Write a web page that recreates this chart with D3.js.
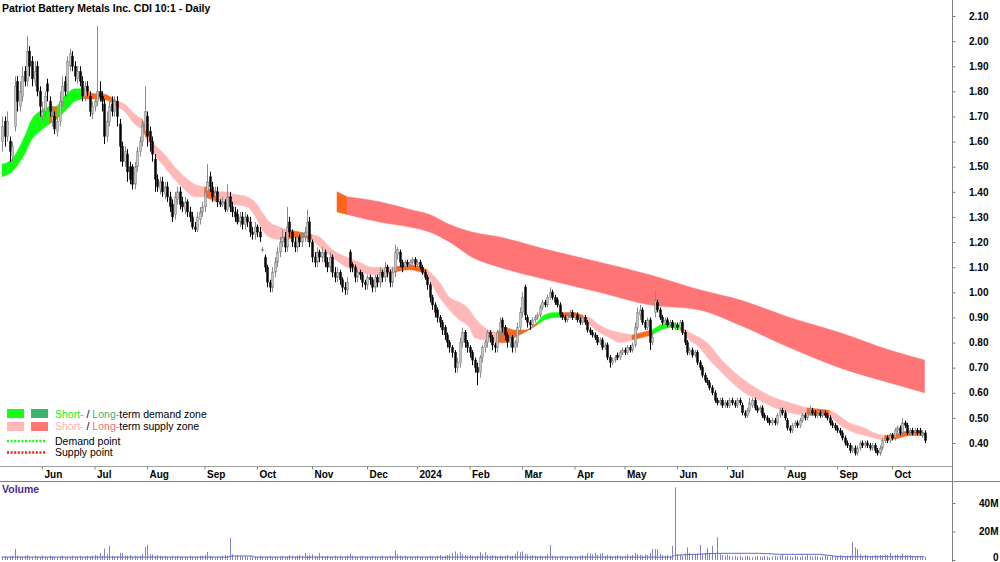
<!DOCTYPE html>
<html>
<head>
<meta charset="utf-8">
<script src="https://cdn.jsdelivr.net/npm/d3@7"></script>
<style>
  body { margin: 0; background: #fff; }
  svg { display: block; font-family: 'Liberation Sans', Arial, sans-serif; }
</style>
</head>
<body>
<div id="chart"></div>
<script>
// Daily candles, one per trading day (index 0 = mid May 2023), prices in cents
const opens = [
  160,168,162,160,154,166,184,174,178,188, 184,196,192,184,190,180,170,172,183,176,
  168,170,164,168,176,184,180,190,194,190, 185,188,184,178,182,178,171,174,176,180,
  178,175,162,168,175,172,176,167,158,152, 155,150,150,143,150,156,160,164,170,164,
  160,153,145,141,144,139,142,138,135,131, 137,140,136,133,136,132,130,126,125,129,
  132,134,140,146,142,138,140,136,135,136, 133,138,134,132,131,128,130,127,130,128,
  124,123,126,124,117,114,110,104,102,108, 112,116,120,122,118,128,124,120,118,122,
  120,122,122,128,120,114,112,116,114,116, 112,110,114,108,106,108,105,102,101,116,
  111,110,106,108,107,104,103,106,105,102, 106,104,108,106,110,108,104,108,115,116,
  112,110,112,111,112,113,111,112,110,108, 106,103,98,95,93,90,88,86,83,80,
  78,76,70,72,80,84,80,78,76,73, 70,68,74,78,80,84,82,79,78,84,
  89,86,83,80,82,78,80,86,92,102, 90,88,87,89,90,91,94,96,95,98,
  100,98,97,95,91,90,89,91,92,90, 91,89,88,90,88,85,84,83,82,80,
  81,78,79,74,72,73,75,74,76,77, 76,78,77,79,86,91,93,88,86,89,
  80,92,96,93,90,88,89,87,88,86, 87,86,88,84,80,76,77,75,76,72,
  70,67,65,64,62,60,57,56,57,55, 56,55,57,56,55,57,55,52,51,53,
  55,57,54,53,54,51,50,49,48,49, 48,51,53,52,49,46,45,47,48,47,
  49,51,50,52,53,52,51,52,51,52, 51,50,48,47,46,45,44,42,40,39,
  37,38,36,38,40,39,40,39,38,39, 37,36,38,41,42,41,43,42,45,46,
  44,48,47,44,45,44,45,45,43,44
]
const highs = [
  170,170,172,162,160,186,186,184,190,190, 202,198,194,192,192,182,176,180,185,178,
  174,172,170,180,186,186,194,197,196,192, 190,190,186,184,184,180,176,178,206,184,
  180,177,172,176,178,178,178,169,160,158, 157,152,151,152,158,162,168,182,172,166,
  162,155,147,146,146,144,144,140,137,140, 142,142,138,138,137,134,132,128,132,134,
  136,142,151,148,144,142,142,137,138,137, 143,140,136,134,133,132,132,132,131,130,
  126,128,127,126,118,115,111,105,110,114, 118,122,125,124,134,130,125,122,124,123,
  124,126,133,130,121,116,118,117,118,117, 114,116,115,110,110,109,106,104,106,117,
  112,111,109,109,108,105,107,107,106,107, 107,110,109,112,111,109,110,119,118,117,
  113,113,113,113,114,114,113,113,111,109, 107,104,99,96,94,91,89,87,84,81,
  79,77,74,82,86,85,81,79,77,74, 72,75,79,81,85,85,83,80,85,90,
  90,87,84,83,83,81,88,94,100,103, 91,89,90,91,92,95,97,97,99,102,
  101,99,98,96,92,91,92,93,93,92, 92,90,91,91,89,86,85,84,83,82,
  82,80,80,75,74,75,76,77,78,78, 79,79,80,88,94,95,94,89,90,90,
  84,101,97,94,91,90,90,89,89,88, 88,89,89,85,81,78,78,77,77,73,
  71,68,66,65,63,61,58,58,58,57, 57,58,58,57,58,58,56,53,54,58,
  58,58,55,55,55,52,51,50,50,50, 52,54,54,53,50,47,48,49,49,50,
  52,52,53,55,54,53,53,53,53,53, 52,51,49,48,47,46,45,43,41,40,
  39,39,39,41,41,41,41,40,40,40, 38,39,42,43,43,44,44,46,47,47,
  50,49,48,46,46,46,46,46,45,45
]
const lows = [
  156,158,160,152,152,164,172,172,176,182, 182,186,182,182,178,170,168,170,176,170,
  166,163,162,166,174,178,178,188,188,184, 183,182,176,176,178,170,169,172,174,176,
  172,159,160,166,170,170,166,152,150,150, 144,143,141,141,148,154,158,162,158,156,
  152,140,140,139,138,137,136,132,128,129, 135,133,132,131,130,128,125,124,124,127,
  130,132,138,140,136,136,134,134,134,132, 132,132,130,128,127,126,125,125,126,122,
  121,121,122,120,116,108,102,100,100,106, 110,114,118,116,116,122,118,116,116,118,
  118,120,120,118,112,110,110,112,112,110, 108,108,106,104,104,103,100,99,99,108,
  108,104,104,105,102,101,101,103,100,100, 102,102,104,104,106,102,102,106,113,110,
  108,109,110,110,111,110,110,109,107,105, 101,96,93,90,88,86,83,81,78,76,
  74,68,68,70,78,78,76,74,71,68, 63,66,72,76,78,80,77,76,76,82,
  84,81,78,78,76,76,78,84,90,89, 86,85,86,88,89,90,93,94,94,97,
  97,95,94,90,89,88,88,90,89,89, 88,87,87,87,84,83,82,81,79,79,
  77,77,73,70,71,72,73,73,75,75, 75,76,76,78,85,89,87,85,85,77,
  79,90,92,89,87,87,86,86,85,85, 85,85,83,79,75,75,74,74,71,69,
  66,64,63,61,59,56,55,55,54,54, 54,54,55,54,54,55,51,50,50,52,
  54,53,52,52,50,49,48,47,47,47, 47,50,51,49,45,44,44,46,46,46,
  48,49,49,51,51,50,50,50,50,50, 49,47,46,45,44,43,41,39,38,36,
  36,35,35,37,38,38,38,37,37,36, 35,35,37,40,40,40,41,41,44,43,
  43,46,43,43,43,43,43,43,42,40
]
const closes = [
  166,162,168,156,158,182,176,180,186,184, 196,190,185,188,180,174,172,178,180,172,
  170,165,168,176,182,180,192,195,190,186, 188,184,178,182,180,172,174,176,180,178,
  176,162,168,174,172,176,170,158,152,156, 148,145,143,150,156,160,166,172,162,160,
  155,145,142,144,140,142,138,134,130,138, 140,135,134,136,132,130,126,125,130,132,
  134,140,144,142,138,140,136,135,136,133, 138,134,132,130,128,130,127,130,128,124,
  123,126,124,122,117,110,104,102,108,112, 116,120,122,118,126,124,120,118,122,120,
  122,124,128,120,114,112,116,114,116,112, 110,114,108,106,108,105,102,101,104,110,
  110,106,108,107,104,103,106,105,102,106, 104,108,106,110,108,104,108,116,117,112,
  110,112,111,112,113,111,112,110,108,106, 103,98,95,92,90,88,85,83,80,78,
  76,70,72,80,84,80,78,76,73,70, 68,74,78,80,84,82,79,78,84,88,
  86,83,80,82,78,80,86,92,98,91, 88,87,89,90,91,94,96,95,98,100,
  98,96,95,91,90,89,91,92,90,91, 89,88,90,88,85,84,83,82,80,81,
  78,79,74,72,73,74,74,76,77,76, 78,77,79,86,92,93,88,86,89,80,
  82,97,93,90,88,89,87,88,86,87, 86,88,84,80,76,77,75,76,72,70,
  67,65,64,62,60,57,56,57,55,56, 55,57,56,55,57,56,52,51,53,56,
  57,54,53,54,51,50,49,48,49,48, 51,53,52,50,46,45,47,48,47,49,
  51,50,52,53,52,51,52,51,52,51, 50,48,47,46,45,44,42,40,39,37,
  38,36,38,40,39,40,39,38,39,37, 36,38,41,42,41,43,42,45,46,44,
  48,47,44,45,44,45,44,44,44,41
]
// volume in millions
const volumes = [
  2.5,3,2,2.5,3,7.7,3,2.5,2,3, 3.5,2.5,2,3,2.5,2,3,2.5,2,3,
  2.5,2,1.8,2.5,3,2,2.5,2,3,2, 2.5,3,2,2.5,3,2.5,3,3.5,3,5,
  3,8,4,10,3,2.5,3,5,5,3, 3,3.5,2.5,3,2.5,3,4,9,10.5,4,
  4,3,3.5,3,2.5,3,2.5,2,3,2.5, 3,2.5,2,2.5,2,3,2.5,2,2.5,3,
  3,3.5,5.6,3,2.5,2,2.5,2,3,3.5, 3,15.4,4,3,3.5,3,2.5,3,2,2.5,
  2,2.5,2,3,2.5,2,2.5,3,2,2.5, 2,2.5,3,2,2.5,3.5,3,2.5,3,3.5,
  3,5,3,3.5,4,3,2.5,5,3,2.5, 3,2.5,2,3,2.5,3,2,2.5,3,4.6,
  3,2.5,2,2.5,3,2,2.5,2,3,2.5, 2,2.5,3,2,2.5,3,2.5,6.5,4,3,
  2.5,3,2,2.5,2,2.5,3,2,2.5,2, 2.5,3,2.5,2,3,3.5,2.5,3,3.5,4,
  5,6,4.5,5.5,4,3.5,3,3.5,3,2.5, 3,5.5,4,5.5,3.5,3,3.5,3,2.5,3,
  2.5,3,3.5,2.5,3,4,6,5.5,6,4.5, 4,3,3.5,3,2.5,3,2.5,3,4,10.5,
  3,2.5,2,2.5,3,2,2.5,3,2,2.5, 2.5,3,3.5,3,5,4.5,4,5,3.5,4.5,
  5,3,3.5,3,2.5,3,3.5,3,2.5,3, 4,3,3.5,5,4,3.5,3,4,3.5,5,
  7.7,7.8,7.5,4,3.5,3,3.5,3,10,51, 4,3.5,3,4.5,9,5,3.5,4,4.5,10.5,
  4,5,8.5,5,10,4.5,16,4,3.5,3, 3.5,3,2.5,3,2.5,3,2,2.5,3,2.5,
  2,2.5,3,2.5,2,3,2.5,2,2.5,3, 2.5,3,3.5,2.5,3,2.5,2,3,2.5,2,
  3,2.5,3.5,3,2.5,3,2.5,2,2.5,3, 2.5,2,3,2.5,3,3.5,3,2.5,3,3,
  12.5,9,7.7,4,3,3.5,3,2.5,3,3.5, 3,3.5,3,4,3.5,5,3,3.5,4,3,
  4.5,3.5,3,3.5,3,2.5,3,2.5,2.5,2
]
// volume average line (sampled)
const volAvgIdx = [0, 90, 92, 100, 101, 268, 269, 286, 303, 311, 327, 335, 369]
const volAvgVal = [2.0, 2.0, 2.8, 2.8, 2.0, 2.0, 3.3, 4.7, 4.7, 4.0, 4.0, 2.3, 2.3]

// short-term zone band (sampled edges, cents); zone code for the stretch that starts at each sample
const stIdx = [
  0,4,9,12,15,19,22,26,29,33, 37,40,43,46,49,53,56,58,61,65,
  69,73,77,81,86,89,93,98,102,104, 107,111,114,119,124,127,132,138,143,148,
  154,157,163,170,175,179,183,187,189,193, 198,201,205,209,214,217,221,224,228,232,
  235,239,243,247,252,260,267,271,275,279, 283,287,291,297,303,309,315,322,331,333,
  339,345,349,353,359,363,369
]
const stUpper = [
  151,153,162,169,172,174,174,179,181,181, 179,179,178,176,175,171,169,165,159,155,
  150,146,143,142,140,140,139,138,135,132, 128,126,125,124,123,122,117,114,112,110,
  110,110,111,109,104,98,96,93,90,86, 84,86,85,85,88,91,92,92,92,91,
  90,87,85,84,83,85,88,87,84,82, 79,74,70,65,61,58,56,54,53,52,
  48,46,44,43,44,45,44
]
const stLower = [
  146,148,155,161,164,167,169,173,176,177, 177,177,176,174,172,167,165,161,155,150,
  145,141,138,138,136,136,135,134,129,125, 122,121,121,122,121,118,114,110,108,107,
  107,108,109,107,98,93,89,86,82,81, 80,80,82,84,87,89,90,90,90,89,
  87,84,82,80,81,83,86,85,81,78, 73,69,65,60,57,54,52,51,51,49,
  45,43,42,41,42,43,43
]
const stZone = ('GGGGG' + 'O' + 'GGG' + 'OOOO' + 'PPP' + 'O' + 'PPPPPP' + 'O' + 'PPPPPPPP' + 'OO' +
  'PPPPPPP' + 'OO' + 'PPPPPPP' + 'OOOO' + 'GGG' + 'OO' + 'PPPPP' + 'O' + 'GG' + 'PPPPPPPPPP' +
  'O' + 'PPPPP' + 'OOOO').split('')

// long-term zone band
const ltIdx = [134, 138, 151, 163, 171, 179, 188, 199, 218, 239, 259, 279, 295, 315, 335, 355, 369]
const ltUpper = [140, 138, 136, 133, 131, 127, 124, 122, 117, 112, 107, 101, 97, 90, 84, 77, 73]
const ltLower = [132, 131, 128, 126, 124, 120, 114, 110, 105, 100, 95, 93, 87, 78, 70, 64, 60]
const ltZone = 'OLLLLLLLLLLLLLLLL'.split('')

// axis ticks
const monthStarts = [16, 37, 58, 81, 102, 124, 146, 166, 187, 208, 229, 249, 270, 290, 313, 334, 356]
const monthLabels = ['Jun', 'Jul', 'Aug', 'Sep', 'Oct', 'Nov', 'Dec', '2024', 'Feb', 'Mar', 'Apr', 'May', 'Jun', 'Jul', 'Aug', 'Sep', 'Oct']
const priceTicks = [40, 50, 60, 70, 80, 90, 100, 110, 120, 130, 140, 150, 160, 170, 180, 190, 200, 210]
const volumeTicks = [0, 20, 40]
const volumeTickLabels = ['0', '20M', '40M']

const zoneColors = { G: '#11ff11', P: '#ffb8b8', O: '#ff661a', L: '#ff7575' }

const width = 1000
const height = 562
const axisX = 952

const svg = d3.select('#chart').append('svg')
  .attr('width', width)
  .attr('height', height)

const xScale = d3.scaleLinear().domain([0, closes.length - 1]).range([2, 924.5])
const yScale = d3.scaleLinear().domain([40, 210]).range([443, 16])
const vScale = d3.scaleLinear().domain([0, 40]).range([560, 503])

// bands: one area per run of the same zone colour
function drawBand (idx, upper, lower, zones) {
  const area = d3.area()
    .x((k) => xScale(idx[k]))
    .y0((k) => yScale(lower[k]))
    .y1((k) => yScale(upper[k]))
    .curve(d3.curveMonotoneX)
  const g = svg.append('g')
  let start = 0
  for (let k = 1; k < idx.length; k++) {
    if (k === idx.length - 1 || zones[k] !== zones[start]) {
      g.append('path')
        .datum(d3.range(start, k + 1))
        .attr('d', area)
        .attr('fill', zoneColors[zones[start]])
        .attr('stroke', zoneColors[zones[start]])
        .attr('stroke-width', 0.5)
      start = k
    }
  }
}
drawBand(ltIdx, ltUpper, ltLower, ltZone)
drawBand(stIdx, stUpper, stLower, stZone)

// candles
const candle = svg.append('g').selectAll('g')
  .data(d3.range(closes.length))
  .join('g')

candle.append('line')
  .attr('x1', (i) => Math.round(xScale(i)) + 0.5)
  .attr('x2', (i) => Math.round(xScale(i)) + 0.5)
  .attr('y1', (i) => yScale(highs[i]))
  .attr('y2', (i) => yScale(lows[i]))
  .attr('stroke', (i) => closes[i] >= opens[i] ? '#8a8a8a' : '#000')
  .attr('stroke-width', 1)

candle.append('rect')
  .attr('x', (i) => Math.round(xScale(i)) - 0.3)
  .attr('width', 1.6)
  .attr('y', (i) => yScale(Math.max(opens[i], closes[i])))
  .attr('height', (i) => Math.max(1, Math.abs(yScale(opens[i]) - yScale(closes[i]))))
  .attr('fill', (i) => closes[i] >= opens[i] ? '#c4c4c4' : '#000')
  .attr('stroke', (i) => closes[i] >= opens[i] ? '#808080' : '#000')
  .attr('stroke-width', 0.6)

// frame lines
svg.append('line').attr('x1', axisX + 0.5).attr('x2', axisX + 0.5).attr('y1', 0).attr('y2', height)
  .attr('stroke', '#808080')
svg.append('line').attr('x1', 0).attr('x2', axisX).attr('y1', 466.5).attr('y2', 466.5)
  .attr('stroke', '#a0a0a0')
svg.append('line').attr('x1', 0).attr('x2', width).attr('y1', 481.5).attr('y2', 481.5)
  .attr('stroke', '#808080')

// price axis
const yAxis = d3.axisRight(yScale)
  .tickValues(priceTicks)
  .tickSize(3)
  .tickFormat((d) => (d / 100).toFixed(2))
const yAxisG = svg.append('g')
  .attr('transform', `translate(${axisX + 0.5}, 0)`)
  .call(yAxis)
yAxisG.select('.domain').remove()
yAxisG.selectAll('line').attr('stroke', '#808080')
yAxisG.selectAll('text')
  .attr('x', 36)
  .attr('text-anchor', 'end')
  .style('font-size', '10px')
  .style('font-weight', 'bold')
  .style('font-family', "'Liberation Sans', Arial, sans-serif")
  .attr('fill', '#000')

// month axis
const xAxis = d3.axisBottom(xScale)
  .tickValues(monthStarts)
  .tickSize(3)
  .tickFormat((d, i) => monthLabels[i])
const xAxisG = svg.append('g')
  .attr('transform', 'translate(0, 466.5)')
  .call(xAxis)
xAxisG.select('.domain').remove()
xAxisG.selectAll('line').attr('stroke', '#808080')
xAxisG.selectAll('text')
  .attr('x', 2)
  .attr('y', 4)
  .attr('text-anchor', 'start')
  .style('font-size', '10px')
  .style('font-weight', 'bold')
  .style('font-family', "'Liberation Sans', Arial, sans-serif")
  .attr('fill', '#000')

// volume
svg.append('g').selectAll('line')
  .data(d3.range(volumes.length))
  .join('line')
  .attr('x1', (i) => Math.round(xScale(i)) + 0.5)
  .attr('x2', (i) => Math.round(xScale(i)) + 0.5)
  .attr('y1', vScale(0))
  .attr('y2', (i) => vScale(volumes[i]))
  .attr('stroke', '#8282d2')
  .attr('stroke-width', 1)

svg.append('path')
  .datum(d3.range(volAvgIdx.length))
  .attr('d', d3.line().x((k) => xScale(volAvgIdx[k])).y((k) => vScale(volAvgVal[k])))
  .attr('fill', 'none')
  .attr('stroke', '#6464c8')
  .attr('stroke-width', 1)

const vAxis = d3.axisRight(vScale)
  .tickValues(volumeTicks)
  .tickSize(3)
  .tickFormat((d, i) => volumeTickLabels[i])
const vAxisG = svg.append('g')
  .attr('transform', `translate(${axisX + 0.5}, 0)`)
  .call(vAxis)
vAxisG.select('.domain').remove()
vAxisG.selectAll('line').attr('stroke', '#808080')
vAxisG.selectAll('text')
  .attr('x', 46)
  .attr('text-anchor', 'end')
  .style('font-size', '10px')
  .style('font-weight', 'bold')
  .style('font-family', "'Liberation Sans', Arial, sans-serif")
  .attr('fill', '#000')
// keep the zero label inside the picture
vAxisG.selectAll('.tick').filter((d) => d === 0).select('text').attr('dy', '0')

svg.append('text')
  .attr('x', 2).attr('y', 493)
  .attr('fill', '#4e2a8e')
  .style('font-size', '10.5px')
  .style('font-weight', 'bold')
  .text('Volume')

// title
svg.append('text')
  .attr('x', 2).attr('y', 12)
  .attr('fill', '#000')
  .style('font-size', '10.5px')
  .style('font-weight', 'bold')
  .text('Patriot Battery Metals Inc. CDI 10:1 - Daily')

// legend
const legend = svg.append('g').style('font-size', '10.5px')
legend.append('rect').attr('x', 7).attr('y', 409).attr('width', 17).attr('height', 9).attr('fill', zoneColors.G)
legend.append('rect').attr('x', 31).attr('y', 409).attr('width', 17).attr('height', 9).attr('fill', '#3cb371')
legend.append('rect').attr('x', 7).attr('y', 422).attr('width', 17).attr('height', 9).attr('fill', zoneColors.P)
legend.append('rect').attr('x', 31).attr('y', 422).attr('width', 17).attr('height', 9).attr('fill', zoneColors.L)
legend.append('line').attr('x1', 7).attr('x2', 45).attr('y1', 441).attr('y2', 441)
  .attr('stroke', '#11ff11').attr('stroke-width', 2.5).attr('stroke-dasharray', '2,1.6')
legend.append('line').attr('x1', 7).attr('x2', 45).attr('y1', 452.5).attr('y2', 452.5)
  .attr('stroke', '#ff1a1a').attr('stroke-width', 2.5).attr('stroke-dasharray', '2,1.6')

const demandText = legend.append('text').attr('x', 55).attr('y', 418)
demandText.append('tspan').attr('fill', '#11ee11').text('Short-')
demandText.append('tspan').attr('fill', '#000').text(' / ')
demandText.append('tspan').attr('fill', '#3cb371').text('Long-')
demandText.append('tspan').attr('fill', '#000').text('term demand zone')

const supplyText = legend.append('text').attr('x', 55).attr('y', 430)
supplyText.append('tspan').attr('fill', '#ffb0b0').text('Short-')
supplyText.append('tspan').attr('fill', '#000').text(' / ')
supplyText.append('tspan').attr('fill', '#ff6b6b').text('Long-')
supplyText.append('tspan').attr('fill', '#000').text('term supply zone')

legend.append('text').attr('x', 55).attr('y', 445).attr('fill', '#000').text('Demand point')
legend.append('text').attr('x', 55).attr('y', 456).attr('fill', '#000').text('Supply point')
</script>
</body>
</html>
